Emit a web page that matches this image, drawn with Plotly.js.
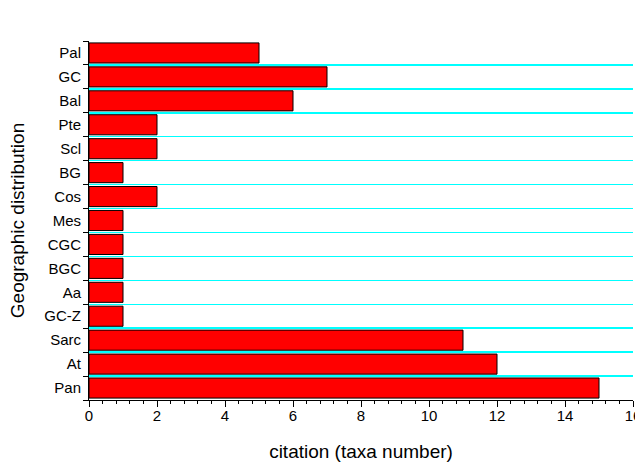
<!DOCTYPE html>
<html>
<head>
<meta charset="utf-8">
<script src="https://cdn.plot.ly/plotly-3.0.1.min.js"></script>
<style>html,body{margin:0;padding:0;background:#fff;}#chart{width:635px;height:462px;}</style>
</head>
<body>
<div id="chart"></div>
<script>
const categories = ["Pan", "At", "Sarc", "GC-Z", "Aa", "BGC", "CGC", "Mes", "Cos", "BG", "Scl", "Pte", "Bal", "GC", "Pal"];
const citations = [15, 12, 11, 1, 1, 1, 1, 1, 2, 1, 2, 2, 6, 7, 5];
const xTickValues = [0, 2, 4, 6, 8, 10, 12, 14, 16];

const trace = {
  type: "bar",
  orientation: "h",
  y: categories,
  x: citations,
  marker: { color: "#ff0000", line: { color: "#000000", width: 1 } },
  hoverinfo: "x+y"
};

const layout = {
  width: 635,
  height: 462,
  margin: { l: 89, r: 2, t: 41, b: 62 },
  paper_bgcolor: "#ffffff",
  plot_bgcolor: "#ffffff",
  showlegend: false,
  bargap: 0.16,
  font: { family: "Liberation Sans, Arial, sans-serif", size: 15, color: "#000" },
  xaxis: {
    range: [0, 16],
    tickvals: xTickValues,
    ticktext: xTickValues.map(String),
    ticklabeloverflow: "allow",
    ticks: "outside",
    ticklen: 6,
    tickwidth: 1,
    tickcolor: "#000",
    showgrid: false,
    zeroline: false,
    showline: true,
    linecolor: "#000",
    linewidth: 1,
    minor: { dtick: 0.4, tick0: 0, ticks: "outside", ticklen: 3, tickcolor: "#000", showgrid: false },
    tickfont: { size: 15 },
    ticklabelstandoff: -4,
    title: { text: "citation (taxa number)", font: { size: 19 }, standoff: 24 }
  },
  yaxis: {
    type: "category",
    categoryorder: "array",
    categoryarray: categories,
    tickson: "boundaries",
    ticks: "outside",
    ticklen: 5,
    tickwidth: 1,
    tickcolor: "#000",
    showgrid: true,
    gridcolor: "#00ffff",
    gridwidth: 1.5,
    showline: true,
    linecolor: "#000",
    linewidth: 1,
    zeroline: false,
    tickfont: { size: 15 },
    ticklabelstandoff: 4,
    title: { text: "Geographic distribution", font: { size: 19 }, standoff: 14 }
  }
};

Plotly.newPlot("chart", [trace], layout, { displayModeBar: false, staticPlot: true });
</script>
</body>
</html>
